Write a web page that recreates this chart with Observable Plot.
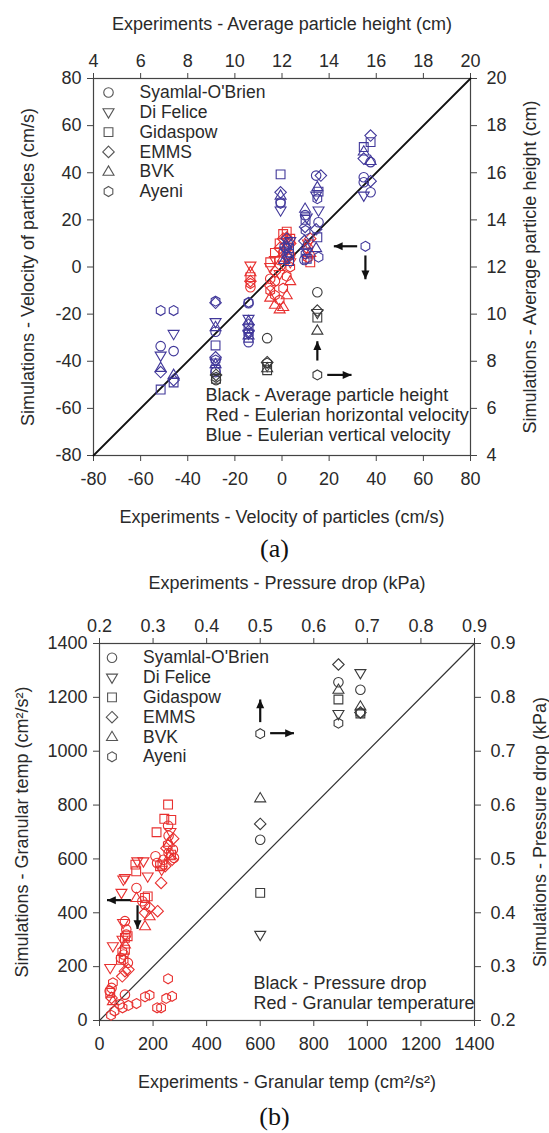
<!DOCTYPE html>
<html><head><meta charset="utf-8">
<script src="https://cdn.jsdelivr.net/npm/d3@7"></script>
<script src="https://cdn.jsdelivr.net/npm/@observablehq/plot@0.6"></script>
<style>
html,body{margin:0;padding:0;background:#fff;}
body{width:549px;}
.cap{font-family:"Liberation Serif","Times New Roman",serif;font-size:26px;text-align:center;color:#111;}
#capA{height:36px;line-height:34px;}
#capB{height:38px;line-height:44px;}
</style></head><body>
<div id="a"></div><div class="cap" id="capA">(a)</div><div id="b"></div><div class="cap" id="capB">(b)</div>
<script>
// ---------- data ----------
const modelCodes = ["SO", "DF", "GI", "EM", "BV", "AY"];
const modelNames = ["Syamlal-O'Brien", "Di Felice", "Gidaspow", "EMMS", "BVK", "Ayeni"];

// Panel (a) tick values (velocity, cm/s); top/right axes show average particle height (cm)
const velTicks = [-80, -60, -40, -20, 0, 20, 40, 60, 80];
const diagA = [-80, 80];

// Blue - Eulerian vertical velocity [model, experiment, simulation] (cm/s)
const blueVertical = [
  ["AY",-51.5,-18.5],["SO",-51.5,-33.6],["DF",-51.5,-37.6],["BV",-51.5,-42.8],["EM",-51.5,-44.6],["GI",-51.5,-52],
  ["AY",-46,-18.5],["DF",-46,-28.4],["SO",-46,-35.7],["BV",-46,-45.8],["EM",-46,-48],["GI",-46,-49],
  ["AY",-28.2,-14.5],["EM",-28.2,-15.2],["DF",-28.2,-23.4],["BV",-28.2,-25.5],["SO",-28.2,-27.5],["GI",-28.2,-33.3],
  ["EM",-28.2,-38.3],["AY",-28.2,-39.5],["DF",-28.2,-40.5],["BV",-28.2,-41.2],["GI",-28.2,-43.6],["SO",-28.2,-44.6],
  ["SO",-14.2,-15.4],["AY",-14.2,-15],["DF",-14.2,-22],["BV",-14.2,-23],["EM",-14.2,-24.5],["GI",-14.2,-26],
  ["EM",-14.2,-27.2],["DF",-14.2,-28.3],["BV",-14.2,-29],["AY",-14.2,-28],["GI",-14.2,-30],["SO",-14.2,-31.9],
  ["GI",-0.6,39.3],["EM",-0.6,31.7],["BV",-0.6,30.3],["SO",-0.6,27.5],["AY",-0.6,27],["DF",-0.6,24],
  ["EM",2,12],["SO",2.5,10],["BV",2,9],["GI",3,8],["DF",1.5,7],["AY",3,6],["SO",2,5],["EM",2.5,4],["BV",1,3],["DF",3.5,11],["GI",3,2.5],["AY",1,8.5],
  ["BV",9.8,24.7],["SO",9.8,22],["DF",10.5,21],["GI",10,20],["EM",9.8,17],["AY",10,15.5],
  ["EM",9.5,11],["BV",10,9],["DF",10.5,6.5],["AY",10,5.5],["SO",9.5,3],["GI",10.5,3.5],
  ["SO",14.5,38.8],["EM",16.5,38.8],["BV",15,33.9],["GI",15.5,32],["DF",14.5,30.3],["AY",15,29],
  ["DF",15.5,24],["SO",15.5,19],["EM",14.5,16],["GI",15,12.6],["BV",14.5,8],["AY",15.5,4.2],
  ["GI",34.7,50.9],["BV",34.7,49],["EM",34.7,46],["SO",34.7,38.1],["SO",34.7,36],["DF",34.7,30.3],
  ["EM",37.6,55.8],["GI",37.6,53],["BV",37.6,45],["SO",37.6,44.5],["EM",37.6,36.4],["SO",37.6,31.7],
  ["AY",35.4,8.8]
];

// Red - Eulerian horizontal velocity [model, experiment, simulation] (cm/s)
const redHorizontal = [
  ["DF",-13.4,0.6],["BV",-13.4,-2.2],["GI",-13.4,-4.3],["EM",-13.4,-6],["AY",-13.4,-7],["SO",-13.4,-8.6],
  ["GI",-5,2],["DF",-5,0],["SO",-5,-5],["EM",-5,-8],["AY",-5,-10],["BV",-5,-13],
  ["GI",-3,6],["DF",-3,3],["EM",-3,-2],["SO",-3,-6],["AY",-3,-12],["BV",-3,-16],
  ["GI",-1,10],["EM",-1,8],["SO",-1,3],["DF",-1,-3],["AY",-1,-14],["BV",-1,-18],
  ["GI",0.5,14],["EM",0.5,12],["SO",0.5,6],["DF",0.5,1],["AY",0.5,-9],["BV",0.5,-17],
  ["GI",2,15],["EM",2,12.5],["SO",2,8],["DF",2,4],["AY",2,-4],["BV",2,-12],
  ["GI",3.5,12],["EM",3.5,10],["SO",3.5,5],["DF",3.5,2],["AY",3.5,0],["BV",3.5,-6],
  ["EM",12,12],["DF",11,10],["SO",11,8],["BV",12,6],["AY",11,4],["GI",12,2]
];

// Black - Average particle height [model, experiment, simulation] (cm)
const blackHeight = [
  ["SO",13.5,10.93],["EM",13.5,10.15],["DF",13.5,10.05],["GI",13.5,9.85],["BV",13.5,9.3],["AY",13.5,7.42],
  ["SO",11.37,8.98],["EM",11.37,7.96],["AY",11.37,7.92],["DF",11.37,7.8],["BV",11.37,7.7],["GI",11.37,7.62],
  ["EM",9.2,7.42],["AY",9.2,7.32],["GI",9.2,7.25],["SO",9.2,7.2]
];

// Annotation arrows of panel (a): velocity units and height units
const arrowsAVel = [
  {x1: 31.9, y1: 8.8, x2: 22.0, y2: 8.8, dir: "left"},
  {x1: 35.4, y1: 4.9, x2: 35.4, y2: -5.2, dir: "down"}
];
const arrowsAHeight = [
  {x1: 13.5, y1: 8.03, x2: 13.5, y2: 8.85, dir: "up"},
  {x1: 13.92, y1: 7.42, x2: 14.95, y2: 7.42, dir: "right"}
];
const notesA = ["Black - Average particle height", "Red - Eulerian horizontal velocity", "Blue - Eulerian vertical velocity"];

// Panel (b)
const tempTicks = [0, 200, 400, 600, 800, 1000, 1200, 1400];
const diagB = [0, 1400];

// Red - Granular temperature [model, experiment, simulation] (cm2/s2)
const redGranular = [
  ["AY",43,20],["AY",56,35],["AY",86,47],["SO",95,96],["AY",108,56],["AY",138,63],["AY",170,88],["AY",187,94],
  ["AY",215,47],["AY",230,47],["AY",249,82],["AY",271,90],["AY",256,155],["SO",75,60],
  ["SO",45,121],["AY",50,140],["GI",40,103],["EM",45,84],["BV",50,72],["DF",40,195],["DF",50,276],["SO",38,110],
  ["EM",85,164],["EM",95,183],["SO",80,232],["SO",90,245],["GI",95,263],["AY",85,257],["GI",95,307],["SO",100,338],
  ["DF",88,362],["SO",100,319],["BV",95,282],["SO",95,369],["EM",108,189],["GI",105,313],["SO",106,214],["DF",86,300],
  ["AY",90,225],["GI",80,225],
  ["DF",82,474],["DF",89,523],["DF",95,529],
  ["SO",138,492],["BV",138,455],["GI",137,554],["GI",134,579],["DF",141,591],["DF",164,591],["DF",180,535],
  ["GI",170,455],["GI",180,461],["SO",160,443],["SO",170,430],["EM",170,400],["BV",170,350],["EM",187,418],["BV",187,387],
  ["EM",217,406],["EM",230,511],["SO",209,610],["SO",215,585],["GI",226,573],["GI",235,579],["SO",239,597],["EM",245,573],
  ["AY",255,653],["SO",258,622],["GI",267,616],["EM",271,597],["SO",274,635],["SO",278,604],
  ["GI",256,802],["GI",242,749],["GI",268,745],["GI",213,699],["SO",256,723],["SO",258,686],["EM",275,675],
  ["DF",265,700],["BV",260,660],["EM",250,640],["DF",232,560],["BV",262,610]
];

// Black - Pressure drop [model, experiment, simulation] (kPa)
const blackPressure = [
  ["BV",0.5,0.6125],["EM",0.5,0.565],["SO",0.5,0.5355],["GI",0.5,0.437],["DF",0.5,0.359],["AY",0.5,0.7325],
  ["EM",0.646,0.861],["SO",0.646,0.828],["BV",0.646,0.814],["GI",0.646,0.796],["DF",0.646,0.769],["AY",0.646,0.752],
  ["DF",0.687,0.845],["SO",0.687,0.814],["BV",0.687,0.783],["EM",0.687,0.772],["AY",0.687,0.771],["GI",0.687,0.770]
];

// Annotation arrows of panel (b): pressure units and temperature units
const arrowsBPress = [
  {x1: 0.5, y1: 0.754, x2: 0.5, y2: 0.796, dir: "up"},
  {x1: 0.5185, y1: 0.7335, x2: 0.563, y2: 0.7335, dir: "right"}
];
const arrowsBTemp = [
  {x1: 117, y1: 447, x2: 28, y2: 447, dir: "left"},
  {x1: 142, y1: 428, x2: 142, y2: 340, dir: "down"}
];
const notesB = ["Black - Pressure drop", "Red - Granular temperature"];

// ---------- styling ----------
const FONT = '"Liberation Sans", Arial, Helvetica, sans-serif';
const BLUE = "#41389a", RED = "#e8302f", BLACK = "#3a3a3a", LEGEND = "#555", INK = "#111";

function makeSymbol(fn) { return {draw(ctx, size) { const r = Math.sqrt(size / Math.PI); fn(ctx, r); }}; }
const SYM = {
  SO: makeSymbol((c, r) => { const k = r * 0.95; c.moveTo(k, 0); c.arc(0, 0, k, 0, 2 * Math.PI); c.closePath(); }),
  DF: makeSymbol((c, r) => { c.moveTo(-1.1 * r, -0.7 * r); c.lineTo(1.1 * r, -0.7 * r); c.lineTo(0, 1.15 * r); c.closePath(); }),
  GI: makeSymbol((c, r) => { const k = r * 0.88; c.moveTo(-k, -k); c.lineTo(k, -k); c.lineTo(k, k); c.lineTo(-k, k); c.closePath(); }),
  EM: makeSymbol((c, r) => { const k = r * 1.15; c.moveTo(0, -k); c.lineTo(k, 0); c.lineTo(0, k); c.lineTo(-k, 0); c.closePath(); }),
  BV: makeSymbol((c, r) => { c.moveTo(-1.1 * r, 0.7 * r); c.lineTo(1.1 * r, 0.7 * r); c.lineTo(0, -1.15 * r); c.closePath(); }),
  AY: makeSymbol((c, r) => { for (let i = 0; i < 6; i++) { const a = Math.PI / 3 * i; const x = r * Math.sin(a), y = -r * Math.cos(a); if (i === 0) c.moveTo(x, y); else c.lineTo(x, y); } c.closePath(); })
};
const HEAD = makeSymbol((c, r) => { c.moveTo(0, 0); c.lineTo(r, 2.2 * r); c.lineTo(-r, 2.2 * r); c.closePath(); });
const ROT = {up: 0, right: 90, down: 180, left: 270};

function seriesMarks(data, color, fx, fy) {
  return modelCodes.map(code => Plot.dot(data.filter(d => d[0] === code), {
    x: d => fx(d[1]), y: d => fy(d[2]), symbol: SYM[code], r: 5,
    stroke: color, fill: "none", strokeWidth: 1.1
  }));
}
function legendMarks(dx, dy) {
  const marks = [];
  modelCodes.forEach((code, i) => {
    marks.push(Plot.dot([code], {frameAnchor: "top-left", dx: dx, dy: dy + i * 19.8, symbol: SYM[code], r: 5, stroke: LEGEND, fill: "none", strokeWidth: 1.1}));
    marks.push(Plot.text([modelNames[i]], {frameAnchor: "top-left", dx: dx + 31, dy: dy + i * 19.8, text: d => d, textAnchor: "start", lineAnchor: "middle", fontSize: 17.5, fill: "#2a2a2a"}));
  });
  return marks;
}
function arrowMarks(data, fx, fy) {
  return [
    Plot.link(data, {x1: d => fx(d.x1), y1: d => fy(d.y1), x2: d => fx(d.x2), y2: d => fy(d.y2), stroke: INK, strokeWidth: 2.2}),
    Plot.dot(data, {x: d => fx(d.x2), y: d => fy(d.y2), symbol: HEAD, r: 4, fill: INK, stroke: "none", rotate: d => ROT[d.dir]})
  ];
}
function noteMarks(lines, dx, dyBottom) {
  return lines.map((t, i) => Plot.text([t], {frameAnchor: "bottom-left", dx: dx, dy: dyBottom + i * 20, text: d => d, textAnchor: "start", lineAnchor: "middle", fontSize: 18, fill: "#2a2a2a"}));
}
function title(t, opts) { return Plot.text([t], {text: d => d, lineAnchor: "middle", textAnchor: "middle", fontSize: 18, fill: "#2a2a2a", ...opts}); }

// ---------- panel (a) ----------
const id = v => v;
const hToV = h => (h - 12) * 10;   // height (cm) on the top/right axes -> velocity scale position
const plotA = Plot.plot({
  width: 549, height: 532,
  marginTop: 78, marginRight: 79, marginBottom: 77, marginLeft: 93,
  style: {fontFamily: FONT, fontSize: "18px", color: "#2a2a2a", background: "white"},
  x: {domain: [-80, 80]}, y: {domain: [-80, 80]},
  marks: [
    Plot.frame({stroke: "#444", strokeWidth: 1.2}),
    Plot.axisX({anchor: "bottom", ticks: velTicks, tickFormat: d => String(d), tickSize: 6, tickPadding: 11, label: null, stroke: "#444"}),
    Plot.axisX({anchor: "top", ticks: velTicks, tickFormat: d => String(12 + d / 10), tickSize: 6, tickPadding: 6, label: null, stroke: "#444"}),
    Plot.axisY({anchor: "left", ticks: velTicks, tickFormat: d => String(d), tickSize: 6, tickPadding: 6, label: null, stroke: "#444"}),
    Plot.axisY({anchor: "right", ticks: velTicks, tickFormat: d => String(12 + d / 10), tickSize: 6, tickPadding: 10, label: null, stroke: "#444"}),
    Plot.line(diagA, {x: d => d, y: d => d, stroke: INK, strokeWidth: 1.8}),
    ...seriesMarks(redHorizontal, RED, id, id),
    ...seriesMarks(blueVertical, BLUE, id, id),
    ...seriesMarks(blackHeight, BLACK, hToV, hToV),
    ...arrowMarks(arrowsAVel, id, id),
    ...arrowMarks(arrowsAHeight, hToV, hToV),
    ...legendMarks(15, 14),
    ...noteMarks(notesA, 112, -60),
    title("Experiments - Average particle height (cm)", {frameAnchor: "top", dy: -54}),
    title("Experiments - Velocity of particles (cm/s)", {frameAnchor: "bottom", dy: 62}),
    title("Simulations - Velocity of particles (cm/s)", {frameAnchor: "left", dx: -65, rotate: -90}),
    title("Simulations - Average particle height (cm)", {frameAnchor: "right", dx: 60, rotate: -90})
  ]
});
document.getElementById("a").appendChild(plotA);

// ---------- panel (b) ----------
const pToT = p => (p - 0.2) * 2000; // pressure (kPa) on the top/right axes -> temperature scale position
const plotB = Plot.plot({
  width: 549, height: 527,
  marginTop: 75, marginRight: 75, marginBottom: 75, marginLeft: 99,
  style: {fontFamily: FONT, fontSize: "18px", color: "#2a2a2a", background: "white"},
  x: {domain: [0, 1400]}, y: {domain: [0, 1400]},
  marks: [
    Plot.frame({stroke: "#444", strokeWidth: 1.2}),
    Plot.axisX({anchor: "bottom", ticks: tempTicks, tickFormat: d => String(d), tickSize: 6, tickPadding: 11, label: null, stroke: "#444"}),
    Plot.axisX({anchor: "top", ticks: tempTicks, tickFormat: d => (0.2 + d / 2000).toFixed(1), tickSize: 6, tickPadding: 6, label: null, stroke: "#444"}),
    Plot.axisY({anchor: "left", ticks: tempTicks, tickFormat: d => String(d), tickSize: 6, tickPadding: 6, label: null, stroke: "#444"}),
    Plot.axisY({anchor: "right", ticks: tempTicks, tickFormat: d => (0.2 + d / 2000).toFixed(1), tickSize: 6, tickPadding: 10, label: null, stroke: "#444"}),
    Plot.line(diagB, {x: d => d, y: d => d, stroke: "#333", strokeWidth: 1.2}),
    ...seriesMarks(redGranular, RED, id, id),
    ...seriesMarks(blackPressure, BLACK, pToT, pToT),
    ...arrowMarks(arrowsBPress, pToT, pToT),
    ...arrowMarks(arrowsBTemp, id, id),
    ...legendMarks(12.5, 14.3),
    ...noteMarks(notesB, 154, -37),
    title("Experiments - Pressure drop (kPa)", {frameAnchor: "top", dy: -60}),
    title("Experiments - Granular temp (cm²/s²)", {frameAnchor: "bottom", dy: 62}),
    title("Simulations - Granular temp (cm²/s²)", {frameAnchor: "left", dx: -77, rotate: -90}),
    title("Simulations - Pressure drop (kPa)", {frameAnchor: "right", dx: 66, rotate: -90})
  ]
});
document.getElementById("b").appendChild(plotB);
</script>
</body></html>
